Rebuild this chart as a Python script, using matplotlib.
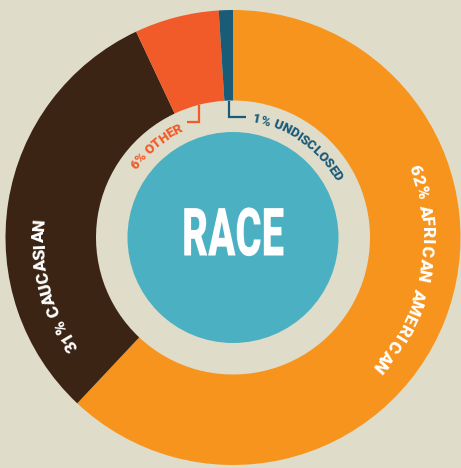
import numpy as np
import matplotlib.pyplot as plt
from matplotlib.patches import Circle
from matplotlib.patheffects import AbstractPathEffect
from matplotlib.transforms import Affine2D
from matplotlib.textpath import TextToPath
from matplotlib.font_manager import FontProperties, findfont, get_font

# data
groups = ["African American", "Caucasian", "Other", "Undisclosed"]
shares = [62, 31, 6, 1]
colors = ["#F7941D", "#3C2415", "#F15A29", "#1A5B78"]
title = "RACE"

bg = "#DFDCCA"
teal = "#4BB1C2"

W, H = 461, 468
cx, cy = 233, 230.5
r_out, r_in, r_core = 227.5, 137, 105.5
px = 100 / 72

fig = plt.figure(figsize=(W / 100, H / 100), dpi=100)
fig.patch.set_facecolor(bg)
ax = fig.add_axes([0, 0, 1, 1])
ax.set_facecolor(bg)

ax.pie(shares, colors=colors, radius=r_out, center=(cx, cy), startangle=90,
       counterclock=False, wedgeprops=dict(width=r_out - r_in, linewidth=0))
ax.set_xlim(0, W)
ax.set_ylim(0, H)
ax.axis('off')

ax.add_patch(Circle((cx, cy), r_core, color=teal, lw=0))

#%% curved labels


def curved_text(s, r, a0, a1, size, color):
    # characters go clockwise from angle a0 to a1, tops pointing outward
    prop = FontProperties(family=['Roboto', 'DejaVu Sans'], weight='black', size=size)
    font = get_font(findfont(prop))
    font.set_size(size, 72)
    widths = np.array([font.load_char(ord(ch)).linearHoriAdvance / 65536 * px for ch in s])
    centers = np.cumsum(widths) - widths / 2
    natural = centers[-1] - centers[0]
    arc = np.radians(a0 - a1) * r
    track = (arc - natural) / (len(s) - 1)
    pos = centers - centers[0] + track * np.arange(len(s))
    rb = r - 0.355 * size * px
    for ch, p in zip(s, pos):
        if ch == ' ':
            continue
        th = np.radians(a0) - p / r
        ax.text(cx + rb * np.cos(th), cy + rb * np.sin(th), ch, fontproperties=prop,
                color=color, rotation=np.degrees(th) - 90, rotation_mode='anchor',
                ha='center', va='baseline')


labels = [f"{s}% {g.upper()}" for s, g in zip(shares, groups)]

curved_text(labels[0], 195, 20.5, -41.5, 12.5, "white")
curved_text(labels[1], 195, 213.8, 176.3, 12.5, "white")
curved_text(labels[2], 122.5, 143.2, 117.2, 9.5, colors[2])
curved_text(labels[3], 121.5, 78.6, 30.5, 9.5, colors[3])

#%% leader lines for the small slices

bounds = 90 - 3.6 * np.cumsum([0] + shares)
mids = (bounds[:-1] + bounds[1:]) / 2

for i, (drop, run) in zip([2, 3], [(17, -12), (16.5, 17)]):
    a = np.radians(mids[i])
    x0, y0 = cx + r_in * np.cos(a), cy + r_in * np.sin(a)
    ax.plot([x0, x0, x0 + run], [y0, y0 - drop, y0 - drop], color=colors[i],
            lw=1.6, solid_joinstyle='miter', solid_capstyle='butt')

#%% center title, squeezed to look condensed


class Squeeze(AbstractPathEffect):
    def __init__(self, sx, x0):
        super().__init__()
        self.sx = sx
        self.x0 = x0

    def draw_path(self, renderer, gc, tpath, affine, rgbFace=None):
        t = affine + Affine2D().translate(-self.x0, 0).scale(self.sx, 1).translate(self.x0, 0)
        renderer.draw_path(gc, tpath, t, rgbFace)


tprop = FontProperties(family=['Roboto', 'DejaVu Sans'], weight='black', size=48)
tw = TextToPath().get_text_width_height_descent(title, tprop, ismath=False)[0] * px
ax.text(cx, cy, title, fontproperties=tprop, color='white', ha='center', va='center',
        path_effects=[Squeeze(102 / tw, cx)])

plt.savefig("out.png", dpi=100, facecolor=bg)
